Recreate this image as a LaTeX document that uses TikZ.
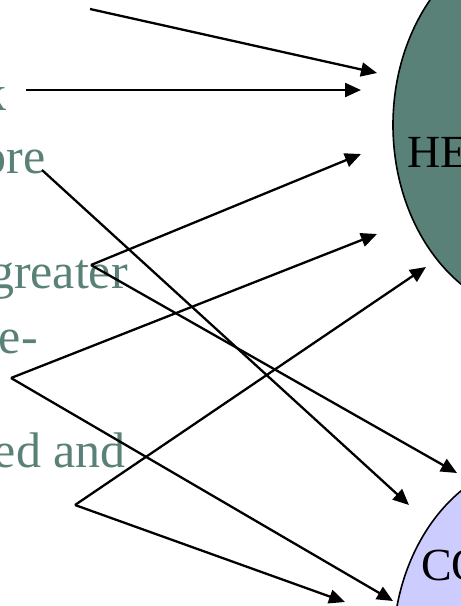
\documentclass[tikz,border=0pt]{standalone}
\usepackage{fontspec}
\setmainfont{Liberation Serif}
\usetikzlibrary{arrows.meta,shapes.geometric}
\definecolor{sage}{RGB}{90,129,120}
\definecolor{lilac}{RGB}{204,204,255}
\tikzset{
  txt/.style={anchor=base east, text=sage, font=\fontsize{50}{60}\selectfont, inner sep=0pt},
  lbl/.style={anchor=base west, text=black, font=\fontsize{46}{55}\selectfont, inner sep=0pt},
  blob/.style={ellipse, draw=black, line width=1.6pt, minimum width=300pt, minimum height=380pt, inner sep=0pt},
  arr/.style={draw=black, line width=2.3pt, -{Triangle[length=16pt,width=14pt]}}
}
\begin{document}
\begin{tikzpicture}[x=1pt,y=-1pt]
\clip (0,0) rectangle (461,606);
\fill[white] (0,0) rectangle (461,606);
% ellipses
\node[blob, fill=sage] (he) at (543,125) {};
\node[blob, fill=lilac] (co) at (543,650) {};
\node[lbl] (helbl) at (407,167) {HE};
\node[lbl] (colbl) at (421,580) {CO};
% text fragments
\node[txt] (t1) at (7,110) {k};
\node[txt] (t2) at (46,173) {ore};
\node[txt] (t3) at (128,288) {greater};
\node[txt] (t4) at (38,353) {e-};
\node[txt] (t5) at (126,467) {ed and};
% coordinates
\coordinate (s1) at (90,9);
\coordinate (e1) at (377,73);
\coordinate (s2) at (26,90);
\coordinate (e2) at (361,90);
\coordinate (s3) at (42,170);
\coordinate (e3) at (409,505);
\coordinate (v4) at (91,265);
\coordinate (e4a) at (361,154);
\coordinate (e4b) at (457,473);
\coordinate (v5) at (11,378);
\coordinate (e5a) at (377,234);
\coordinate (e5b) at (393,601);
\coordinate (v6) at (75,505);
\coordinate (e6a) at (426,267);
\coordinate (e6b) at (345,602);
% connectors
\draw[arr] (s1) -- (e1);
\draw[arr] (s2) -- (e2);
\draw[arr] (s3) -- (e3);
\draw[arr] (v4) -- (e4a);
\draw[arr] (v4) -- (e4b);
\draw[arr] (v5) -- (e5a);
\draw[arr] (v5) -- (e5b);
\draw[arr] (v6) -- (e6a);
\draw[arr] (v6) -- (e6b);
\end{tikzpicture}
\end{document}
